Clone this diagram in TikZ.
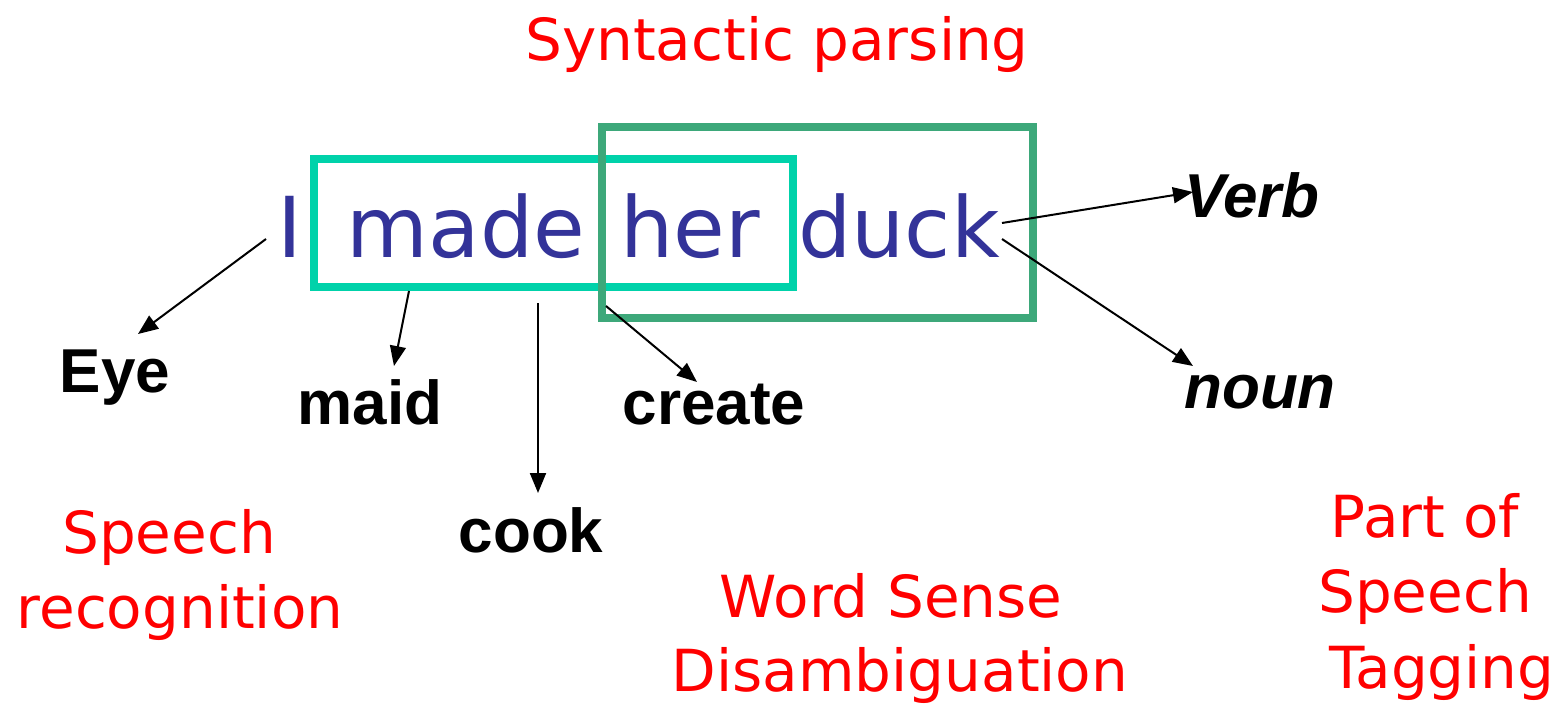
\documentclass[tikz,border=0pt]{standalone}
\usepackage{fontspec}
\setmainfont{Liberation Sans}
\newfontfamily\handfont{DejaVu Sans}
\usetikzlibrary{arrows.meta}

\definecolor{wordblue}{HTML}{333399}
\definecolor{boxteal}{HTML}{00D2AA}
\definecolor{boxgreen}{HTML}{3DA87A}

\tikzset{
	word/.style={anchor=base, inner sep=0pt, text=wordblue, font=\handfont\fontsize{84}{100}\selectfont},
	sense/.style={anchor=base, inner sep=0pt, font=\bfseries\fontsize{62}{70}\selectfont},
	tag/.style={anchor=base, inner sep=0pt, font=\bfseries\itshape\fontsize{62}{70}\selectfont},
	task/.style={anchor=base, inner sep=0pt, text=red, font=\handfont\fontsize{58}{72}\selectfont},
	arr/.style={-{Triangle[length=20pt,width=16pt]}, line width=2pt},
	frame/.style={line width=7.5pt},
}

\begin{document}
\begin{tikzpicture}[x=1pt, y=-1pt]
			%%%%% START %%%%%
			\useasboundingbox (0, 0) rectangle (1566, 706);
			
			\node[task] (syntax) at (777, 61) {Syntactic parsing};
			
			% the two frames round the word pairs
			\draw[frame, boxteal] (314, 159) rectangle (793, 287);
			\draw[frame, boxgreen] (602, 127) rectangle (1033, 318);
			
			\node[word] (I) at (290, 257) {I};
			\node[word] (made) at (466, 257) {made};
			\node[word] (her) at (690, 257) {her};
			\node[word] (duck) at (899, 257) {duck};
			
			\node[sense] (eye) at (115, 392) {Eye};
			\node[sense] (maid) at (370, 424) {maid};
			\node[sense] (create) at (714, 424) {create};
			\node[sense] (cook) at (531, 552) {cook};
			\node[tag] (verb) at (1252, 217) {Verb};
			\node[tag] (noun) at (1260, 408) {noun};
			
			% arrow ends
			\coordinate (I-out) at (266, 239);
			\coordinate (eye-in) at (138, 334);
			\coordinate (made-out) at (409, 291);
			\coordinate (maid-in) at (394, 366);
			\coordinate (cook-out) at (538, 303);
			\coordinate (cook-in) at (538, 493);
			\coordinate (her-out) at (606, 306);
			\coordinate (create-in) at (697, 382);
			\coordinate (duck-up) at (1002, 223);
			\coordinate (verb-in) at (1193, 192);
			\coordinate (duck-down) at (1002, 239);
			\coordinate (noun-in) at (1193, 366);
			
			\draw[arr] (I-out) -- (eye-in);
			\draw[arr] (made-out) -- (maid-in);
			\draw[arr] (cook-out) -- (cook-in);
			\draw[arr] (her-out) -- (create-in);
			\draw[arr] (duck-up) -- (verb-in);
			\draw[arr] (duck-down) -- (noun-in);
			
			% the tasks below
			\node[task] (speech) at (169, 553) {Speech};
			\node[task] (recog) at (180, 628) {recognition};
			\node[task] (wsd1) at (891, 617) {Word Sense};
			\node[task] (wsd2) at (900, 691) {Disambiguation};
			\node[task] (pos1) at (1425, 537) {Part of};
			\node[task] (pos2) at (1425, 612) {Speech};
			\node[task] (pos3) at (1442, 688) {Tagging};
			
			%%%%% END %%%%%
\end{tikzpicture}
\end{document}
